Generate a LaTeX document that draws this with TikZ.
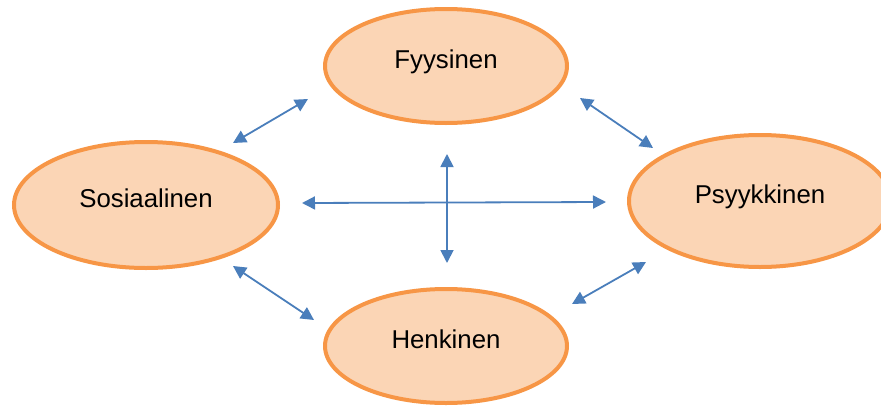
\documentclass[tikz,border=0pt]{standalone}
\usepackage{fontspec}
\setmainfont{Liberation Sans}
\usetikzlibrary{shapes.geometric,arrows.meta}
\definecolor{boxfill}{HTML}{FBD5B5}
\definecolor{boxline}{HTML}{F79646}
\definecolor{arrowblue}{HTML}{4A7EBB}
\begin{document}
\begin{tikzpicture}[x=1pt,y=-1pt,
  area/.style={ellipse, draw=boxline, fill=boxfill, line width=4pt,
    inner sep=0pt, text height=18pt, text depth=13pt,
    font=\fontsize{25.8pt}{30pt}\selectfont},
  link/.style={draw=arrowblue, line width=1.8pt,
    {Triangle[length=13pt,width=13pt]}-{Triangle[length=13pt,width=13pt]}}]
  \useasboundingbox (0,0) rectangle (881,407);
  \clip (0,0) rectangle (881,407);

  % the four dimensions
  \node[area, minimum width=242pt, minimum height=114pt] (fy) at (446,66) {Fyysinen};
  \node[area, minimum width=264pt, minimum height=126pt] (so) at (146,205) {Sosiaalinen};
  \node[area, minimum width=262pt, minimum height=132pt] (ps) at (760,201) {Psyykkinen};
  \node[area, minimum width=242pt, minimum height=114pt] (he) at (446,346) {Henkinen};

  % arrow ends, placed around the ellipses
  \coordinate (sfA) at ([shift={(87,-62)}]so.center);
  \coordinate (sfB) at ([shift={(-138,33)}]fy.center);
  \coordinate (fpA) at ([shift={(134,32)}]fy.center);
  \coordinate (fpB) at ([shift={(-107,-53)}]ps.center);
  \coordinate (shA) at ([shift={(87,61)}]so.center);
  \coordinate (shB) at ([shift={(-132,-26)}]he.center);
  \coordinate (hpA) at ([shift={(126,-42)}]he.center);
  \coordinate (hpB) at ([shift={(-114,61)}]ps.center);
  \coordinate (spA) at ([shift={(156,-2)}]so.center);
  \coordinate (spB) at ([shift={(-154,1)}]ps.center);
  \coordinate (fhA) at ([shift={(1,88)}]fy.center);
  \coordinate (fhB) at ([shift={(1,-83)}]he.center);

  % connections between the dimensions
  \draw[link] (sfA) -- (sfB);
  \draw[link] (fpA) -- (fpB);
  \draw[link] (shA) -- (shB);
  \draw[link] (hpA) -- (hpB);
  \draw[link] (spA) -- (spB);
  \draw[link] (fhA) -- (fhB);
\end{tikzpicture}
\end{document}
